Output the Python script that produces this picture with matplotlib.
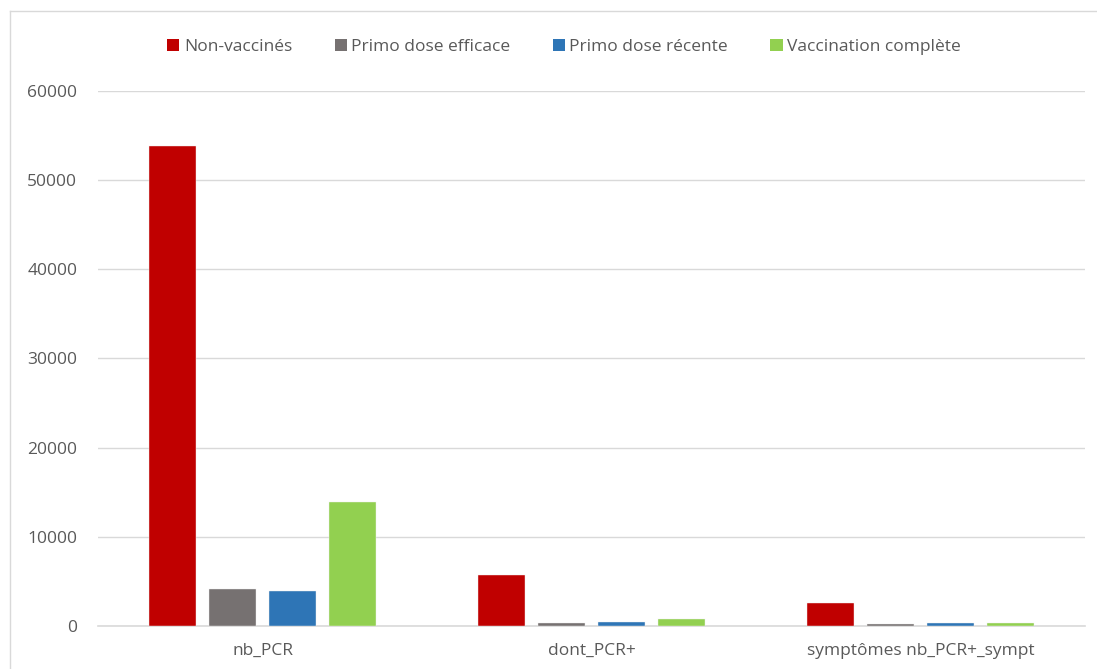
import matplotlib
matplotlib.use("Agg")
import matplotlib.pyplot as plt
from matplotlib.patches import Patch
from matplotlib.lines import Line2D
import numpy as np

plt.rcParams['font.family'] = ['Open Sans', 'DejaVu Sans']

categories = ["nb_PCR", "dont_PCR+", "symptômes nb_PCR+_sympt"]
series_names = ["Non-vaccinés", "Primo dose efficace", "Primo dose récente", "Vaccination complète"]
non_vaccines = [53800, 5750, 2580]
primo_efficace = [4150, 300, 180]
primo_recente = [3980, 480, 290]
vacc_complete = [13900, 730, 290]
yticks = [0, 10000, 20000, 30000, 40000, 50000, 60000]

colors = ["#C00000", "#767171", "#2E75B6", "#92D050"]
data = [non_vaccines, primo_efficace, primo_recente, vacc_complete]

fig = plt.figure(figsize=(10.97, 6.69), dpi=100)
ax = fig.add_axes([98/1097, 1-626/669, (1085-98)/1097, (626-91)/669])

x = np.arange(len(categories))
spacing = 0.182
width = 0.143
for i, (vals, c, name) in enumerate(zip(data, colors, series_names)):
    ax.bar(x + (i-1.5)*spacing, vals, width, color=c, label=name,
           edgecolor="#eeeeee", linewidth=0.3, zorder=3)

ax.set_xlim(-0.5, 2.5)
ax.set_ylim(0, 60000)
ax.set_yticks(yticks)
ax.set_yticklabels([str(v) for v in yticks])
ax.set_xticks(x)
ax.set_xticklabels(categories)
ax.grid(axis='y', color="#d9d9d9", linewidth=1, zorder=0)
for s in ['top', 'right', 'left']:
    ax.spines[s].set_visible(False)
ax.spines['bottom'].set_color("#d9d9d9")
ax.spines['bottom'].set_linewidth(1.2)
ax.tick_params(axis='both', length=0, colors="#595959", labelsize=12.5)
ax.tick_params(axis='y', pad=15)
ax.tick_params(axis='x', pad=12)

handles = [Patch(facecolor=c, edgecolor='none') for c in colors]
fig.legend(handles, series_names, loc='center', bbox_to_anchor=(564/1097, 1-47/669),
           ncol=4, frameon=False, fontsize=12.5, handlelength=0.7, handleheight=0.7,
           handletextpad=0.25, columnspacing=2.45, labelcolor="#595959")

# chart area border
fig.add_artist(Line2D([10/1097, 10/1097], [0, 1-11/669], color="#d9d9d9", linewidth=1))
fig.add_artist(Line2D([10/1097, 1], [1-11/669, 1-11/669], color="#d9d9d9", linewidth=1))

fig.savefig("out.png", dpi=100)
